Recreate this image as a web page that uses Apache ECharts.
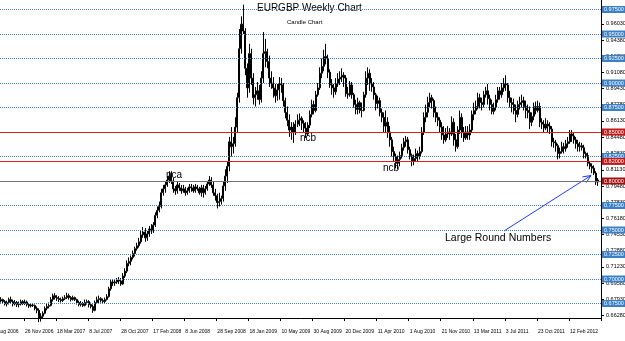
<!DOCTYPE html>
<html>
<head>
<meta charset="utf-8">
<script src="https://cdn.jsdelivr.net/npm/echarts/dist/echarts.min.js"></script>
<style>
  html, body { margin: 0; padding: 0; background: #fff; }
  #chart { width: 625px; height: 341px; }
</style>
</head>
<body>
<div id="chart"></div>
<script>
// weekly candles, [open, close, low, high] in pips (x 0.0001)
var w2006 = [
  [6790,6770,6750,6810],[6770,6780,6755,6800],[6780,6795,6765,6820],[6795,6775,6760,6810],
  [6775,6790,6760,6815],[6790,6770,6745,6800],[6770,6745,6730,6785],[6745,6760,6720,6780],
  [6760,6790,6740,6810],[6790,6770,6750,6820],[6770,6745,6720,6790],[6745,6760,6730,6785],
  [6760,6740,6715,6775],[6740,6745,6710,6770],[6745,6770,6730,6790],[6770,6750,6735,6785],
  [6750,6765,6735,6790],[6765,6740,6720,6780],[6740,6725,6705,6755],[6725,6735,6710,6750],
  [6735,6730,6715,6745],[6730,6700,6680,6740]
];
var w2007 = [
  [6700,6680,6650,6720],[6680,6600,6560,6700],[6600,6620,6565,6650],[6620,6650,6600,6670],
  [6650,6700,6640,6720],[6700,6720,6680,6745],[6720,6730,6700,6760],[6730,6790,6720,6815],
  [6790,6830,6770,6850],[6830,6810,6790,6855],[6810,6800,6775,6835],[6800,6790,6765,6825],
  [6790,6780,6760,6810],[6780,6800,6765,6820],[6800,6810,6785,6835],[6810,6830,6795,6860],
  [6830,6810,6790,6850],[6810,6790,6770,6825],[6790,6810,6780,6830],[6810,6790,6775,6820],
  [6790,6760,6740,6800],[6760,6740,6720,6780],[6740,6750,6720,6775],[6750,6730,6715,6765],
  [6730,6760,6720,6790],[6760,6770,6740,6790],[6770,6740,6710,6785],[6740,6720,6700,6760],
  [6720,6680,6655,6740],[6680,6760,6670,6780],[6760,6790,6745,6820],[6790,6800,6755,6830],
  [6800,6780,6760,6815],[6780,6770,6750,6800],[6770,6790,6755,6810],[6790,6820,6780,6845],
  [6820,6900,6810,6920],[6900,6970,6880,6990],[6970,6960,6930,6990],[6960,6970,6930,6995],
  [6970,6990,6950,7010],[6990,6980,6950,7020],[6980,6950,6930,7010],[6950,7030,6940,7060],
  [7030,7080,7010,7110],[7080,7160,7060,7190],[7160,7180,7130,7220],[7180,7220,7140,7240],
  [7220,7260,7200,7290],[7260,7310,7230,7330],[7310,7340,7290,7370],[7340,7380,7320,7420]
];
var w2008 = [
  [7380,7450,7360,7490],[7450,7480,7420,7530],[7480,7420,7380,7520],[7420,7460,7390,7490],
  [7460,7510,7430,7540],[7510,7490,7460,7560],[7490,7550,7470,7580],[7550,7650,7530,7680],
  [7650,7700,7620,7740],[7700,7740,7680,7790],[7740,7880,7720,7920],[7880,7920,7850,7960],
  [7920,7960,7880,7990],[7960,8010,7940,8050],[8010,8050,7980,8100],[8050,8000,7970,8100],
  [8000,7920,7880,8030],[7920,7900,7860,7950],[7900,7960,7870,7990],[7960,7930,7900,7980],
  [7930,7900,7870,7960],[7900,7920,7880,7960],[7920,7880,7850,7940],[7880,7900,7860,7930],
  [7900,7940,7880,7970],[7940,7930,7890,7970],[7930,7900,7880,7960],[7900,7940,7880,7970],
  [7940,7920,7900,7960],[7920,7880,7860,7940],[7880,7930,7840,7960],[7930,7880,7830,7960],
  [7880,7920,7860,7950],[7920,7970,7900,8000],[7970,8010,7950,8050],[8010,7960,7930,8040],
  [7960,7880,7850,7990],[7880,7850,7800,7920],[7850,7780,7720,7870],[7780,7790,7740,7880],
  [7790,7820,7760,7850],[7820,7950,7790,8000],[7950,8050,7900,8120],[8050,8150,7980,8200],
  [8150,8400,8100,8450],[8400,8350,8250,8550],[8350,8380,8280,8450],[8380,8550,8350,8650],
  [8550,8850,8500,8900],[8850,9350,8800,9550],[9350,9600,9300,9680],[9600,9530,9500,9800]
];
var w2009 = [
  [9530,9150,9080,9560],[9150,8950,8850,9200],[8950,9300,8900,9400],[9300,9050,8980,9350],
  [9050,8850,8780,9100],[8850,8880,8760,8960],[8880,8920,8830,9010],[8920,8830,8780,8980],
  [8830,9050,8800,9120],[9050,9300,9000,9520],[9300,9320,9160,9450],[9320,9220,9150,9350],
  [9220,9050,8960,9280],[9050,9000,8940,9120],[9000,8950,8850,9060],[8950,8870,8800,8990],
  [8870,8930,8820,8990],[8930,8990,8830,9060],[8990,8980,8900,9050],[8980,8820,8760,9000],
  [8820,8700,8640,8850],[8700,8620,8560,8760],[8620,8520,8450,8680],[8520,8550,8420,8600],
  [8550,8500,8390,8600],[8500,8580,8470,8620],[8580,8620,8550,8680],[8620,8640,8560,8690],
  [8640,8590,8520,8660],[8590,8540,8500,8620],[8540,8480,8440,8600],[8480,8570,8460,8600],
  [8570,8680,8540,8720],[8680,8780,8650,8830],[8780,8720,8680,8820],[8720,8880,8700,8920],
  [8880,8950,8860,9000],[8950,9100,8930,9160],[9100,9170,9050,9250],[9170,9270,9120,9340],
  [9270,9250,9190,9400],[9250,9110,9050,9290],[9110,8980,8950,9140],[8980,8950,8880,9040],
  [8950,8910,8850,8990],[8910,8990,8880,9050],[8990,9040,8960,9100],[9040,9060,8980,9120],
  [9060,9080,9010,9150],[9080,9050,8960,9110],[9050,8890,8860,9080],[8890,8880,8840,8960]
];
var w2010 = [
  [8880,8980,8860,9020],[8980,8880,8840,9010],[8880,8780,8750,8900],[8780,8730,8680,8830],
  [8730,8800,8680,8850],[8800,8720,8690,8820],[8720,8720,8650,8800],[8720,8880,8710,8910],
  [8880,9050,8850,9120],[9050,9100,8980,9160],[9100,8990,8920,9140],[8990,8960,8910,9050],
  [8960,8880,8830,9010],[8880,8790,8720,8900],[8790,8820,8740,8870],[8820,8700,8660,8850],
  [8700,8650,8600,8740],[8650,8560,8500,8700],[8560,8600,8500,8720],[8600,8500,8440,8650],
  [8500,8420,8350,8560],[8420,8300,8250,8450],[8300,8250,8200,8350],[8250,8180,8130,8280],
  [8180,8220,8120,8260],[8220,8260,8150,8300],[8260,8340,8230,8380],[8340,8400,8310,8440],
  [8400,8420,8350,8460],[8420,8320,8280,8450],[8320,8260,8220,8350],[8260,8200,8150,8280],
  [8200,8230,8160,8270],[8230,8280,8200,8330],[8280,8250,8200,8310],[8250,8300,8220,8350],
  [8300,8500,8280,8550],[8500,8650,8470,8700],[8650,8700,8600,8780],[8700,8800,8650,8860],
  [8800,8850,8750,8900],[8850,8820,8740,8880],[8820,8700,8650,8840],[8700,8650,8600,8760],
  [8650,8620,8560,8700],[8620,8550,8500,8650],[8550,8470,8420,8600],[8470,8420,8380,8560],
  [8420,8480,8400,8540],[8480,8500,8440,8560],[8500,8480,8420,8540],[8480,8600,8460,8660]
];
var w2011 = [
  [8600,8420,8360,8640],[8420,8350,8300,8480],[8350,8520,8330,8560],[8520,8650,8480,8720],
  [8650,8500,8440,8690],[8500,8440,8400,8550],[8440,8500,8420,8560],[8500,8470,8420,8560],
  [8470,8520,8420,8580],[8520,8680,8500,8720],[8680,8720,8620,8800],[8720,8760,8680,8820],
  [8760,8850,8730,8900],[8850,8800,8740,8890],[8800,8780,8720,8850],[8780,8880,8750,8920],
  [8880,8920,8850,8960],[8920,8840,8780,8990],[8840,8780,8720,8880],[8780,8710,8680,8830],
  [8710,8750,8680,8800],[8750,8830,8720,8880],[8830,8920,8800,8960],[8920,8880,8830,8960],
  [8880,8950,8850,9000],[8950,8990,8910,9050],[8990,8980,8920,9080],[8980,8850,8800,9000],
  [8850,8800,8750,8920],[8800,8780,8700,8850],[8780,8720,8680,8840],[8720,8680,8600,8780],
  [8680,8780,8650,8820],[8780,8800,8730,8860],[8800,8820,8750,8880],[8820,8760,8720,8860],
  [8760,8720,8640,8820],[8720,8700,8640,8780],[8700,8600,8530,8760],[8600,8660,8560,8700],
  [8660,8760,8620,8800],[8760,8720,8680,8810],[8720,8760,8700,8820],[8760,8600,8550,8800],
  [8600,8580,8530,8640],[8580,8540,8500,8620],[8540,8580,8520,8640],[8580,8560,8500,8620],
  [8560,8530,8480,8600],[8530,8400,8350,8560],[8400,8390,8340,8440],[8390,8360,8300,8420]
];
var w2012 = [
  [8360,8280,8220,8380],[8280,8300,8230,8340],[8300,8350,8280,8400],[8350,8330,8280,8390],
  [8330,8380,8300,8420],[8380,8400,8340,8450],[8400,8480,8380,8520],[8480,8460,8400,8520],
  [8460,8420,8380,8500],[8420,8380,8330,8450],[8380,8350,8300,8420],[8350,8360,8300,8400],
  [8360,8340,8310,8390],[8340,8280,8230,8370],[8280,8260,8230,8300],[8260,8180,8150,8290],
  [8180,8150,8120,8200],[8150,8130,8080,8180],[8130,8080,8060,8160],[8080,7990,7960,8100],
  [7990,8010,7950,8030]
];

var firstWeek = [2006, 7, 6];        // Sunday 6 Aug 2006
var weekCount = 304;
var months = ['Jan','Feb','Mar','Apr','May','Jun','Jul','Aug','Sep','Oct','Nov','Dec'];

var blueLevels = [0.675, 0.700, 0.725, 0.750, 0.775, 0.825, 0.875, 0.900, 0.925, 0.950, 0.975];
var redLevels = [0.850, 0.820];
var roundLevel = 0.800;
var priceTicks = [0.96030, 0.94380, 0.92730, 0.91080, 0.89430, 0.87780, 0.86130, 0.84480, 0.82830,
                  0.81130, 0.79480, 0.77830, 0.76180, 0.74530, 0.72880, 0.71230, 0.69580, 0.67930, 0.66280];

var categories = [];
for (var i = 0; i < weekCount; i++) {
  var d = new Date(Date.UTC(firstWeek[0], firstWeek[1], firstWeek[2] + 7 * i));
  categories.push(d.getUTCDate() + ' ' + months[d.getUTCMonth()] + ' ' + d.getUTCFullYear());
}

var candles = [].concat(w2006, w2007, w2008, w2009, w2010, w2011, w2012).map(function (r) {
  return r.map(function (v) { return v / 10000; });
});

function lvlLabel(v, bg) {
  return {
    show: true, position: 'end', distance: 1,
    formatter: v.toFixed(5),
    backgroundColor: bg, color: '#fff', fontSize: 5.5,
    fontFamily: 'Liberation Sans', padding: [1, 2, 0, 2]
  };
}

var lines = [];
blueLevels.forEach(function (v) {
  lines.push({ yAxis: v, lineStyle: { color: '#3b7fc4', type: 'dotted', width: 1 }, label: lvlLabel(v, '#3b7fc4') });
});
redLevels.forEach(function (v) {
  lines.push({ yAxis: v, lineStyle: { color: '#e02020', type: 'solid', width: 1 }, label: lvlLabel(v, '#c01818') });
});
lines.push({ yAxis: roundLevel, lineStyle: { color: '#707070', type: 'solid', width: 1 }, label: lvlLabel(roundLevel, '#a01010') });

var option = {
  animation: false,
  backgroundColor: '#fff',
  grid: { left: -8, right: 24, top: 0, bottom: 23, outerBoundsMode: 'none', containLabel: false },
  xAxis: {
    type: 'category',
    data: categories,
    boundaryGap: true,
    axisLine: { lineStyle: { color: '#000' } },
    axisTick: { show: true, interval: 15, length: 3, lineStyle: { color: '#000' } },
    axisLabel: {
      interval: 15, align: 'left', margin: 11, fontSize: 5,
      fontFamily: 'Liberation Sans', color: '#000', hideOverlap: false
    },
    splitLine: { show: false }
  },
  yAxis: {
    type: 'value',
    position: 'right',
    min: 0.6602,
    max: 0.9847,
    scale: true,
    axisLine: { show: true, lineStyle: { color: '#000' } },
    axisTick: { show: true, customValues: priceTicks, length: 3, lineStyle: { color: '#000' } },
    axisLabel: {
      customValues: priceTicks, margin: 5, fontSize: 5.5, color: '#000',
      fontFamily: 'Liberation Sans',
      formatter: function (v) { return v.toFixed(5); }
    },
    splitLine: { show: false }
  },
  series: [{
    type: 'candlestick',
    data: candles,
    barWidth: 1.5,
    itemStyle: {
      color: '#fff', color0: '#000',
      borderColor: '#000', borderColor0: '#000', borderWidth: 1
    },
    markLine: {
      silent: true, symbol: 'none', animation: false, precision: 5,
      data: lines
    }
  }],
  graphic: [
    { type: 'text', left: 257, top: 3, style: { text: 'EURGBP Weekly Chart', fontSize: 10, fontFamily: 'Liberation Sans', fill: '#000' } },
    { type: 'text', left: 287, top: 19, style: { text: 'Candle Chart', fontSize: 6, fontFamily: 'Liberation Sans', fill: '#000' } },
    { type: 'text', left: 166, top: 170, style: { text: 'nca', fontSize: 10, fontFamily: 'Liberation Sans', fill: '#000' } },
    { type: 'text', left: 300, top: 133, style: { text: 'ncb', fontSize: 10, fontFamily: 'Liberation Sans', fill: '#000' } },
    { type: 'text', left: 383, top: 163, style: { text: 'ncb', fontSize: 10, fontFamily: 'Liberation Sans', fill: '#000' } },
    { type: 'text', left: 445, top: 233, style: { text: 'Large Round Numbers', fontSize: 10.5, fontFamily: 'Liberation Sans', fill: '#000' } },
    { type: 'line', shape: { x1: 504, y1: 231, x2: 591, y2: 175.5 }, style: { stroke: '#1a3cff', lineWidth: 1 } },
    { type: 'polyline', shape: { points: [[582.4, 176.9], [591, 175.5], [586.2, 182.7]] }, style: { stroke: '#1a3cff', fill: null, lineWidth: 1 } }
  ]
};

var chart = echarts.init(document.getElementById('chart'));
chart.setOption(option);
</script>
</body>
</html>
